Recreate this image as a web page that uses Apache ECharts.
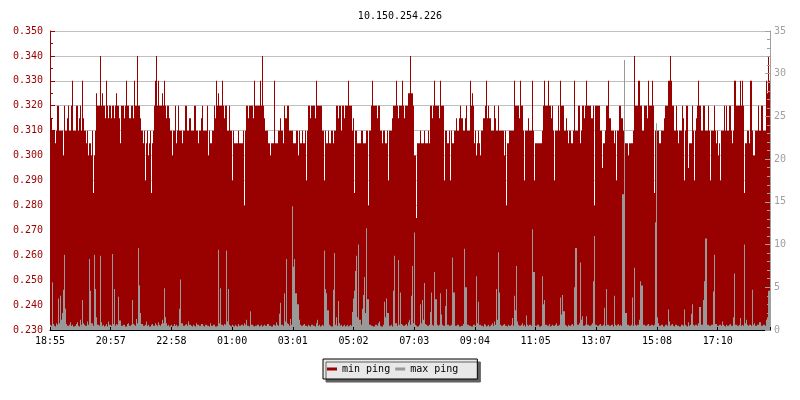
<!DOCTYPE html>
<html><head><meta charset="utf-8">
<script src="https://cdn.jsdelivr.net/npm/echarts@6/dist/echarts.min.js"></script>
<style>html,body{margin:0;padding:0;background:#fff}#c{width:800px;height:400px}</style>
</head><body><div id="c"></div>
<script>
const chartTitle = '10.150.254.226';
const seriesNames = ['min ping', 'max ping'];
const stepMinutes = 2;          // one sample every 2 minutes
const tickMinutes = 121.4;      // spacing of the time labels
const totalMinutes = 1440;
const tickLabels = ['18:55','20:57','22:58','01:00','03:01','05:02','07:03','09:04','11:05','13:07','15:08','17:10'];

// min ping, in microseconds (0.310 ms = 310)
const minPingUs = [
320,315,310,310,310,305,310,320,320,310,310,310,310,300,320,310,310,315,320,310,
310,320,330,310,310,310,320,320,310,315,320,310,330,315,310,310,305,310,300,305,
305,300,310,285,300,310,325,320,320,320,340,320,325,320,320,315,330,320,315,320,
320,315,320,320,315,320,325,320,320,315,305,320,320,320,315,320,330,320,320,315,
315,320,320,315,330,320,320,340,320,320,315,310,310,305,310,290,305,310,300,305,
310,285,305,310,320,330,340,320,330,320,320,320,325,320,330,320,315,320,320,315,
310,310,300,310,310,320,305,310,320,310,310,310,305,310,310,320,320,310,310,315,
315,310,310,310,320,320,310,310,305,310,310,315,320,310,310,310,310,320,300,310,
305,305,310,310,320,315,330,320,325,320,320,320,330,320,315,320,320,310,310,320,
310,310,290,310,305,305,305,305,310,305,305,305,305,310,280,310,320,320,315,320,
320,320,320,315,330,320,320,320,320,320,330,320,340,320,315,310,310,310,305,305,
300,305,305,305,330,305,305,305,310,310,315,310,310,305,320,315,315,320,320,310,
310,310,310,305,305,305,310,310,300,310,305,305,310,305,305,310,290,310,320,320,
315,320,320,320,320,315,330,320,320,320,320,320,310,310,290,310,305,305,310,305,
305,310,310,305,310,310,320,320,315,320,320,310,320,320,315,320,320,320,330,320,
320,320,310,315,285,310,310,305,305,305,305,310,310,305,305,305,310,310,280,310,
310,320,330,320,320,320,320,315,320,320,310,310,305,310,310,305,305,310,290,310,
310,310,315,320,320,320,330,320,315,320,320,320,330,320,315,320,320,320,325,325,
340,325,325,320,300,300,275,305,305,305,310,305,305,305,310,305,305,305,310,305,
320,320,315,320,330,320,320,320,320,315,330,320,320,320,290,310,310,305,305,310,
290,310,305,305,310,310,315,310,310,315,320,315,315,310,310,315,320,310,310,310,
330,320,325,320,305,310,300,305,310,305,300,310,310,315,315,320,330,315,320,315,
315,310,310,310,320,315,310,310,320,310,310,310,310,310,300,310,280,305,305,310,
310,310,310,310,330,320,320,320,320,315,330,320,320,310,290,310,310,310,315,310,
310,310,330,310,290,305,305,305,305,305,305,305,310,320,330,320,320,320,330,320,
320,315,320,310,290,310,310,310,320,310,330,320,320,320,310,310,315,310,305,310,
310,305,305,310,330,310,310,310,320,320,305,310,320,320,315,320,330,320,320,320,
320,315,315,320,280,320,320,320,320,320,310,310,295,305,305,310,320,320,330,315,
315,310,310,310,305,310,290,310,310,320,320,315,315,310,310,305,305,305,300,305,
305,305,305,310,340,320,320,320,330,330,320,320,310,310,320,320,320,315,330,320,
320,320,330,320,285,310,310,310,310,305,305,310,310,310,315,320,320,320,330,330,
340,330,320,320,310,310,320,310,305,310,310,310,320,315,290,310,320,320,295,305,
305,305,320,310,290,310,315,320,330,320,320,310,310,320,320,310,310,310,320,310,
290,310,310,310,320,310,305,310,300,305,290,310,310,310,320,310,320,310,310,320,
320,310,305,310,330,330,320,320,320,320,330,320,330,320,285,305,305,310,310,305,
330,330,310,300,300,310,310,310,320,310,310,320,320,310,310,310,330,325,340,330
];

// max ping, right axis
const maxPing = [
0.6,0.5,5.6,0.7,0.5,0.4,0.8,0.6,3.7,0.8,4.0,1.2,2.0,4.7,8.8,2.5,0.7,0.5,0.5,0.6,
0.9,0.5,0.6,0.4,0.4,0.5,0.7,0.9,0.5,0.4,1.2,0.6,3.5,0.8,0.6,0.5,0.5,1.0,0.6,8.3,
4.6,0.8,0.8,0.5,8.8,4.8,1.5,0.6,0.6,0.5,8.7,0.9,0.5,0.6,0.4,0.5,0.7,0.4,1.0,0.6,
0.6,0.5,8.9,0.7,4.8,0.5,0.7,0.6,3.9,1.1,1.1,0.5,0.5,0.6,0.6,0.4,0.4,0.7,0.8,0.5,
0.5,0.6,3.5,0.7,0.6,0.5,1.3,0.8,9.6,5.2,2.0,0.7,0.7,0.5,0.5,0.6,1.0,0.5,0.6,0.4,
0.4,0.6,0.7,0.5,0.5,0.8,0.6,0.5,0.9,0.6,0.5,0.7,1.2,0.8,4.9,1.5,0.8,0.5,0.6,0.4,
0.5,0.6,0.4,0.5,0.7,0.5,0.6,0.4,0.5,2.5,5.9,0.8,0.8,0.5,0.5,0.6,0.7,0.5,1.0,0.6,
0.6,0.5,0.4,0.6,0.5,0.4,0.8,0.6,0.6,0.5,0.5,0.7,0.7,0.5,0.4,0.6,0.6,0.5,0.5,0.4,
0.8,0.5,0.5,0.6,0.6,0.4,0.4,0.5,9.4,0.8,4.9,0.6,0.6,0.5,0.7,0.6,9.3,1.0,4.8,0.6,
0.5,0.4,0.6,0.5,0.4,0.6,0.5,0.4,0.7,0.5,0.5,0.6,0.6,0.5,0.8,0.6,1.2,0.5,0.5,0.4,
2.2,0.6,0.6,0.5,0.4,0.5,0.5,0.6,0.6,0.4,0.5,0.6,0.4,0.5,0.6,0.5,0.5,0.7,0.7,0.5,
0.5,0.4,0.4,0.6,0.6,0.5,0.9,0.6,0.5,1.9,3.2,0.6,0.6,0.5,4.3,1.0,8.3,0.8,0.7,0.5,
1.3,0.6,14.5,7.4,8.3,4.3,4.3,3.0,3.0,1.2,0.6,0.5,0.5,0.6,0.7,0.5,0.5,0.4,0.6,0.5,
0.4,0.6,0.6,0.5,0.5,0.4,0.8,1.2,0.5,0.6,0.4,0.5,0.6,0.5,9.3,4.8,4.3,2.3,2.3,0.6,
0.5,0.4,0.4,4.7,9.0,0.6,1.5,0.5,3.4,0.8,0.5,0.6,0.4,0.5,0.6,0.4,0.5,0.6,0.4,0.5,
0.6,0.5,2.1,3.7,4.6,6.9,8.7,1.5,10.0,1.2,1.2,0.6,2.5,4.1,6.2,2.0,11.9,3.6,3.6,0.6,
0.6,0.5,0.5,0.4,0.4,0.6,0.6,0.5,0.8,1.0,0.5,0.4,0.4,0.6,3.3,1.5,3.7,2.0,2.0,0.5,
0.5,0.6,0.4,4.6,8.7,0.8,0.8,0.5,8.2,0.6,4.4,0.7,0.6,0.5,0.5,0.6,0.7,0.5,0.9,1.2,
0.6,4.0,7.5,0.8,11.4,0.6,0.5,0.4,0.4,0.6,3.0,0.8,3.5,1.2,5.5,0.7,0.6,0.5,0.5,0.6,
2.1,4.4,0.6,0.5,6.8,3.6,3.6,0.6,0.5,0.6,4.3,1.8,0.6,0.5,0.5,2.8,4.8,0.6,0.6,0.5,
0.5,0.6,8.5,4.4,4.4,0.5,0.5,0.6,0.6,0.4,0.4,0.5,0.5,0.7,9.5,5.0,5.0,0.6,0.6,0.5,
0.5,0.4,0.4,0.6,0.6,0.5,6.3,0.8,3.3,0.6,0.6,0.5,0.5,0.4,0.7,0.6,0.4,0.5,0.6,0.4,
0.5,0.6,0.8,0.5,1.0,0.6,4.8,1.2,9.1,4.4,0.6,0.5,0.5,0.6,0.7,0.5,0.5,0.4,0.6,0.5,
0.5,0.6,1.4,0.5,4.0,2.3,7.5,1.0,0.6,0.5,0.5,0.6,0.8,0.5,0.6,0.4,1.7,0.6,0.5,0.6,
0.6,0.5,11.8,6.8,6.8,0.5,0.5,0.6,0.6,0.4,0.4,0.5,6.3,3.0,3.5,0.6,0.6,0.5,0.5,0.7,
0.4,0.5,0.6,0.5,0.5,0.6,0.8,0.5,0.5,0.6,3.8,1.8,4.1,2.2,2.2,0.6,0.5,0.4,0.6,0.5,
0.5,0.6,0.7,0.5,5.0,9.6,9.6,0.6,0.6,0.8,7.9,1.2,1.6,0.5,0.5,0.6,1.6,0.6,0.6,0.5,
0.5,0.6,0.8,5.7,11.0,0.6,0.6,0.5,0.5,0.6,0.7,0.5,0.5,0.6,2.6,0.5,4.8,0.6,0.6,0.5,
0.5,0.6,0.6,0.4,4.0,0.6,0.5,0.6,0.7,0.5,0.6,0.5,15.9,15.9,31.6,2.0,2.0,0.6,0.6,0.5,
0.5,0.6,3.8,0.5,7.3,0.6,0.5,0.6,0.6,1.2,5.7,5.2,5.2,0.6,0.6,0.5,0.5,0.6,0.7,0.5,
0.5,0.6,0.6,0.5,0.6,12.6,24.2,1.5,0.8,0.5,0.5,0.6,0.6,0.4,0.4,0.6,0.6,0.5,2.4,1.0,
0.5,0.6,0.7,0.5,0.4,0.6,0.6,0.5,0.5,0.4,0.4,0.6,0.6,0.5,2.4,0.6,0.5,0.4,0.9,0.5,
0.6,1.9,3.0,0.6,0.5,0.6,0.6,0.5,0.8,2.7,2.7,0.6,0.6,3.5,5.7,10.7,10.7,0.6,0.6,0.5,
0.5,0.6,0.6,4.5,8.8,0.7,0.7,0.5,0.5,0.6,0.6,0.5,1.0,0.6,0.5,0.4,0.6,0.5,0.5,0.6,
0.7,0.5,0.5,1.5,6.6,0.6,0.6,0.5,0.5,0.6,1.4,0.5,0.6,0.5,10.0,0.8,1.2,0.6,0.5,0.6,
0.6,0.5,4.7,0.6,0.8,0.5,0.5,0.6,0.6,0.9,0.9,0.5,0.5,0.6,0.6,0.5,1.2,1.5,4.6,4.6
];

// each sample is a column centred in its 2-minute slot
function toColumns(arr, scale) {
  return arr.map((v, i) => [i * stepMinutes + stepMinutes / 2, v * scale]);
}

const MONO = 'DejaVu Sans Mono';
const RED = '#990000';
const GRAY = '#999999';

const chart = echarts.init(document.getElementById('c'), null, {renderer: 'canvas'});
chart.setOption({
  animation: false,
  backgroundColor: '#ffffff',
  title: {
    text: chartTitle, left: 'center', top: 6,
    textStyle: {fontFamily: MONO, fontSize: 10, fontWeight: 'normal', color: '#000'}
  },
  legend: {
    data: seriesNames, left: 323, top: 359,
    icon: 'rect', itemWidth: 10, itemHeight: 3, itemGap: 5,
    padding: [5, 19, 5, 4],
    backgroundColor: '#e8e8e8', borderColor: '#000', borderWidth: 1, borderRadius: 0,
    shadowColor: '#606060', shadowOffsetX: 3, shadowOffsetY: 3, shadowBlur: 0,
    textStyle: {fontFamily: MONO, fontSize: 10, color: '#000'}
  },
  grid: {left: 50, right: 30, top: 31, bottom: 70, containLabel: false},
  xAxis: {
    type: 'value', min: 0, max: totalMinutes, interval: tickMinutes, z: 10,
    axisLine: {show: true, lineStyle: {color: '#000', width: 1}},
    axisTick: {show: true, inside: true, length: 3, lineStyle: {color: '#000'}},
    splitLine: {show: false},
    axisLabel: {
      color: '#000', fontFamily: MONO, fontSize: 10, margin: 6,
      showMinLabel: true, showMaxLabel: true, hideOverlap: false,
      formatter: function (v) {
        const k = Math.round(v / tickMinutes);
        if (Math.abs(k * tickMinutes - v) > 0.5) return '';
        return tickLabels[k] || '';
      }
    }
  },
  yAxis: [{
    type: 'value', position: 'left', min: 0.23, max: 0.35, interval: 0.01,
    axisLine: {show: true, lineStyle: {color: RED, width: 1}},
    axisTick: {show: true, inside: true, length: 5, lineStyle: {color: RED}},
    minorTick: {show: true, splitNumber: 2, length: 3, lineStyle: {color: RED}},
    splitLine: {show: true, lineStyle: {color: '#c0c0c0', width: 1}},
    axisLabel: {color: RED, fontFamily: MONO, fontSize: 10, margin: 7,
      formatter: v => v.toFixed(3)}
  }, {
    type: 'value', position: 'right', min: 0, max: 35, interval: 5, z: 10,
    axisLine: {show: true, lineStyle: {color: '#a0a0a0', width: 1}},
    axisTick: {show: true, inside: true, length: 5, lineStyle: {color: '#a0a0a0'}},
    minorTick: {show: true, splitNumber: 5, length: 3, lineStyle: {color: '#a0a0a0'}},
    splitLine: {show: false},
    axisLabel: {color: '#a0a0a0', fontFamily: MONO, fontSize: 10, margin: 4}
  }],
  series: [{
    name: seriesNames[0], type: 'bar', yAxisIndex: 0,
    data: toColumns(minPingUs, 0.001), silent: true, clip: true,
    barWidth: 1, barGap: '-100%',
    color: RED, itemStyle: {color: RED, borderWidth: 0}
  }, {
    name: seriesNames[1], type: 'bar', yAxisIndex: 1,
    data: toColumns(maxPing, 1), silent: true, clip: true,
    barWidth: 1, barGap: '-100%',
    color: GRAY, itemStyle: {color: GRAY, borderWidth: 0}
  }]
});
</script>
</body></html>
